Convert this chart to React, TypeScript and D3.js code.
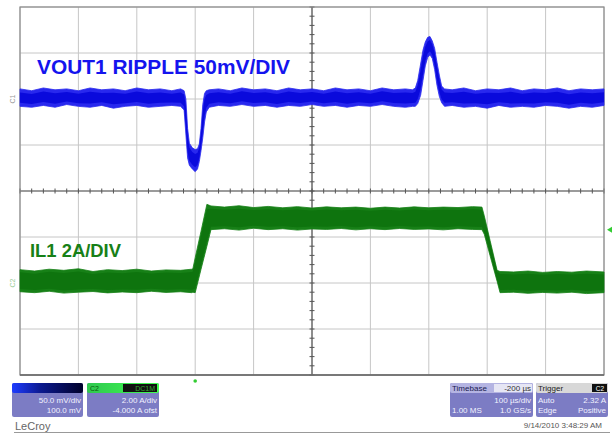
import React from 'react';
import * as d3 from 'd3';

// [time µs, upper envelope, lower envelope]
const voutTrace: [number, number, number][] = [
  [-500, 11, -8], [-480, 9, -9], [-460, 12, -7], [-440, 10, -9], [-420, 11, -6],
  [-400, 9, -8], [-380, 12, -9], [-360, 10, -7], [-340, 11, -10], [-320, 9, -8],
  [-300, 12, -7], [-280, 10, -9], [-260, 11, -8], [-240, 9, -7], [-225, 11, -8],
  [-219, 9, -12], [-216, 0, -38], [-213, -32, -64], [-210, -48, -72], [-205, -53, -76],
  [-200, -55, -79], [-196, -54, -76], [-193, -49, -68], [-190, -32, -56], [-187, -6, -42],
  [-184, 6, -25], [-181, 9, -14], [-176, 10, -9], [-160, 11, -7], [-140, 9, -8],
  [-120, 12, -6], [-100, 10, -8], [-80, 11, -7], [-60, 9, -9], [-40, 12, -7],
  [-20, 10, -8], [0, 11, -6], [20, 9, -8], [40, 12, -7], [60, 10, -9],
  [80, 11, -7], [100, 9, -8], [120, 12, -6], [140, 10, -8], [160, 11, -9],
  [172, 10, -8], [177, 12, -8], [181, 20, -5], [186, 38, 4], [190, 53, 20],
  [194, 62, 36], [198, 67, 45], [202, 68, 48], [206, 63, 44], [210, 55, 32],
  [214, 40, 15], [218, 26, 3], [222, 14, -4], [227, 11, -8], [240, 10, -7],
  [260, 12, -9], [280, 9, -8], [300, 11, -10], [320, 10, -7], [340, 12, -9],
  [360, 9, -8], [380, 11, -9], [400, 10, -7], [420, 12, -8], [440, 9, -10],
  [460, 11, -8], [480, 10, -9], [500, 11, -7],
];

const ilTrace: [number, number, number][] = [
  [-500, 0.58, -0.38], [-475, 0.52, -0.42], [-450, 0.6, -0.36], [-425, 0.55, -0.44],
  [-400, 0.62, -0.4], [-375, 0.5, -0.37], [-350, 0.58, -0.43], [-325, 0.54, -0.39],
  [-300, 0.6, -0.42], [-275, 0.52, -0.36], [-250, 0.57, -0.41], [-225, 0.55, -0.38],
  [-206, 0.6, -0.42], [-204, 0.62, -0.4], [-200, 1.1, -0.42], [-190, 2.25, 0.6],
  [-180, 3.42, 1.6], [-173, 3.35, 2.32], [-150, 3.3, 2.36], [-125, 3.36, 2.3],
  [-100, 3.28, 2.38], [-75, 3.33, 2.32], [-50, 3.27, 2.36], [-25, 3.32, 2.3],
  [0, 3.26, 2.35], [25, 3.31, 2.33], [50, 3.27, 2.37], [75, 3.3, 2.31],
  [100, 3.25, 2.36], [125, 3.3, 2.32], [150, 3.26, 2.37], [175, 3.31, 2.33],
  [200, 3.27, 2.35], [225, 3.3, 2.31], [250, 3.28, 2.36], [275, 3.32, 2.33],
  [291, 3.3, 2.32], [295, 2.92, 2.12], [305, 1.84, 1.18], [317, 0.55, 0.07],
  [322, 0.5, -0.42], [345, 0.48, -0.4], [370, 0.52, -0.45], [395, 0.46, -0.41],
  [420, 0.5, -0.44], [445, 0.47, -0.4], [470, 0.52, -0.46], [500, 0.48, -0.42],
];

// channel settings (mV / A)
const VOUT_PER_DIV = 50;
const VOUT_OFFSET = 100;
const IL_PER_DIV = 2;
const IL_OFFSET = -4;
const TRIGGER_TIME = -200;
const TRIGGER_LEVEL = 2.32;

const ch1Lines = ['50.0 mV/div', '100.0 mV'];
const ch2Lines = ['2.00 A/div', '-4.000 A ofst'];
const timebaseRows = [['', '100 µs/div'], ['1.00 MS', '1.0 GS/s']];
const triggerRows = [['Auto', '2.32 A'], ['Edge', 'Positive']];

const W = 616, H = 433;
const g = { left: 20, right: 604, top: 7, bottom: 375 };
const FONT = '"Liberation Sans", Arial, sans-serif';

const x = d3.scaleLinear().domain([-500, 500]).range([g.left, g.right]);
const yDiv = d3.scaleLinear().domain([-4, 4]).range([g.bottom, g.top]);
const yV = (mv: number) => yDiv((mv + VOUT_OFFSET) / VOUT_PER_DIV);
const yI = (a: number) => yDiv((a + IL_OFFSET) / IL_PER_DIV);

const band = (yf: (v: number) => number, shrink = 0) =>
  d3
    .area<[number, number, number]>()
    .x((d) => x(d[0]))
    .y0((d) => yf(d[2] + shrink * (d[1] - d[2])))
    .y1((d) => yf(d[1] - shrink * (d[1] - d[2])))
    .curve(d3.curveLinear);

const App = () => {
  const xDivs = d3.range(-500, 501, 100);
  const yDivs = d3.range(-4, 5, 1);
  const xMinor = d3.range(-500, 501, 20);
  const yMinor = d3.range(-4, 4.01, 0.2);
  const xc = x(0), yc = yDiv(0);

  return (
    <svg width={W} height={H} style={{ position: 'absolute', left: 0, top: 0, background: '#fff' }}>
      <defs>
        <linearGradient id="c1head" x1="0" x2="1">
          <stop offset="0" stopColor="#1e3cff" />
          <stop offset="0.4" stopColor="#0c1a90" />
          <stop offset="1" stopColor="#00002a" />
        </linearGradient>
        <linearGradient id="c2head" x1="0" x2="1">
          <stop offset="0" stopColor="#30c850" />
          <stop offset="1" stopColor="#40ff50" />
        </linearGradient>
      </defs>

      {/* grid */}
      <g>
        {xDivs.map((t) => (
          <line key={'vx' + t} x1={x(t)} x2={x(t)} y1={g.top} y2={g.bottom} stroke="#c6c6c6" strokeWidth={1} />
        ))}
        {yDivs.map((d) => (
          <line key={'hy' + d} x1={g.left} x2={g.right} y1={yDiv(d)} y2={yDiv(d)} stroke="#c6c6c6" strokeWidth={1} />
        ))}
        <line x1={xc} x2={xc} y1={g.top} y2={g.bottom} stroke="#555" strokeWidth={1.2} />
        <line x1={g.left} x2={g.right} y1={yc} y2={yc} stroke="#555" strokeWidth={1.2} />
        {xMinor.map((t) => (
          <line key={'mx' + t} x1={x(t)} x2={x(t)} y1={yc - 2.5} y2={yc + 2.5} stroke="#555" strokeWidth={1} />
        ))}
        {yMinor.map((d, i) => (
          <line key={'my' + i} x1={xc - 2.5} x2={xc + 2.5} y1={yDiv(d)} y2={yDiv(d)} stroke="#555" strokeWidth={1} />
        ))}
        <rect x={g.left} y={g.top} width={g.right - g.left} height={g.bottom - g.top} fill="none" stroke="#8c8c8c" strokeWidth={1.2} />
        <line x1={g.left} x2={g.right} y1={g.bottom} y2={g.bottom} stroke="#666" strokeWidth={1.5} />
      </g>

      {/* traces */}
      <path d={band(yV)(voutTrace) ?? ''} fill="#2828ee" stroke="#2828ee" strokeWidth={0.8} />
      <path d={band(yV, 0.2)(voutTrace) ?? ''} fill="#0a0adc" />
      <path d={band(yI)(ilTrace) ?? ''} fill="#178017" stroke="#178017" strokeWidth={0.8} />
      <path d={band(yI, 0.12)(ilTrace) ?? ''} fill="#0e740e" />

      {/* channel markers */}
      <text x={0} y={0} transform={`translate(15,${yV(0)}) rotate(-90)`} fontSize={7} fill="#999" textAnchor="middle" fontFamily={FONT}>C1</text>
      <text x={0} y={0} transform={`translate(15,${yI(0)}) rotate(-90)`} fontSize={7} fill="#9c9" textAnchor="middle" fontFamily={FONT}>C2</text>
      <path d={`M${g.right + 3},${yI(TRIGGER_LEVEL)} l5,-3 l0,6 z`} fill="#3c3" />
      <circle cx={x(TRIGGER_TIME)} cy={g.bottom + 6} r={1.8} fill="#3c3" />

      {/* labels */}
      <text x={37} y={74} fontSize={20} fontWeight="bold" fill="#1414ee" fontFamily={FONT} textLength={253} lengthAdjust="spacingAndGlyphs">
        VOUT1 RIPPLE 50mV/DIV
      </text>
      <text x={30} y={257} fontSize={18.5} fontWeight="bold" fill="#178017" fontFamily={FONT} textLength={91} lengthAdjust="spacingAndGlyphs">
        IL1 2A/DIV
      </text>

      {/* info boxes */}
      <g fontFamily={FONT} fontSize={8}>
        <rect x={12} y={383} width={71} height={34} rx={2} fill="#7c7cc4" />
        <rect x={12} y={383} width={71} height={10} rx={2} fill="url(#c1head)" />
        {ch1Lines.map((s, i) => (
          <text key={s} x={81} y={403 + i * 10} textAnchor="end" fill="#f2f2ff">{s}</text>
        ))}

        <rect x={87} y={383} width={72} height={34} rx={2} fill="#7c7cc4" />
        <rect x={87} y={383} width={72} height={10} rx={2} fill="url(#c2head)" />
        <text x={90} y={391} fill="#0a5a0a" fontSize={7}>C2</text>
        <rect x={123} y={384} width={34} height={8} fill="#111" />
        <text x={155} y={391} textAnchor="end" fill="#3a3" fontSize={7}>DC1M</text>
        {ch2Lines.map((s, i) => (
          <text key={s} x={157} y={403 + i * 10} textAnchor="end" fill="#f2f2ff">{s}</text>
        ))}

        <rect x={450} y={383} width={83} height={34} rx={2} fill="#7c7cc4" />
        <rect x={450} y={383} width={83} height={10} rx={2} fill="#b4b4e2" />
        <text x={452} y={391} fill="#1a1a50">Timebase</text>
        <rect x={494} y={384} width={38} height={8} fill="#e6e6f4" />
        <text x={531} y={391} textAnchor="end" fill="#333">-200 µs</text>
        {timebaseRows.map((r, i) => (
          <g key={i}>
            <text x={452} y={403 + i * 10} fill="#f2f2ff">{r[0]}</text>
            <text x={531} y={403 + i * 10} textAnchor="end" fill="#f2f2ff">{r[1]}</text>
          </g>
        ))}

        <rect x={536} y={383} width={72} height={34} rx={2} fill="#7c7cc4" />
        <rect x={536} y={383} width={72} height={10} rx={2} fill="#d8d8d8" />
        <text x={538} y={391} fill="#222">Trigger</text>
        <rect x={592} y={384} width={15} height={8} fill="#111" />
        <text x={600} y={391} textAnchor="middle" fill="#fff" fontSize={6.5}>C2</text>
        {triggerRows.map((r, i) => (
          <g key={i}>
            <text x={538} y={403 + i * 10} fill="#f2f2ff">{r[0]}</text>
            <text x={606} y={403 + i * 10} textAnchor="end" fill="#f2f2ff">{r[1]}</text>
          </g>
        ))}

        <text x={602} y={428} textAnchor="end" fill="#555">9/14/2010 3:48:29 AM</text>
        <text x={15} y={430} fontSize={11} fill="#666">LeCroy</text>
        <line x1={14} x2={610} y1={432.5} y2={432.5} stroke="#999" strokeWidth={1} />
      </g>
    </svg>
  );
};

export default App;
